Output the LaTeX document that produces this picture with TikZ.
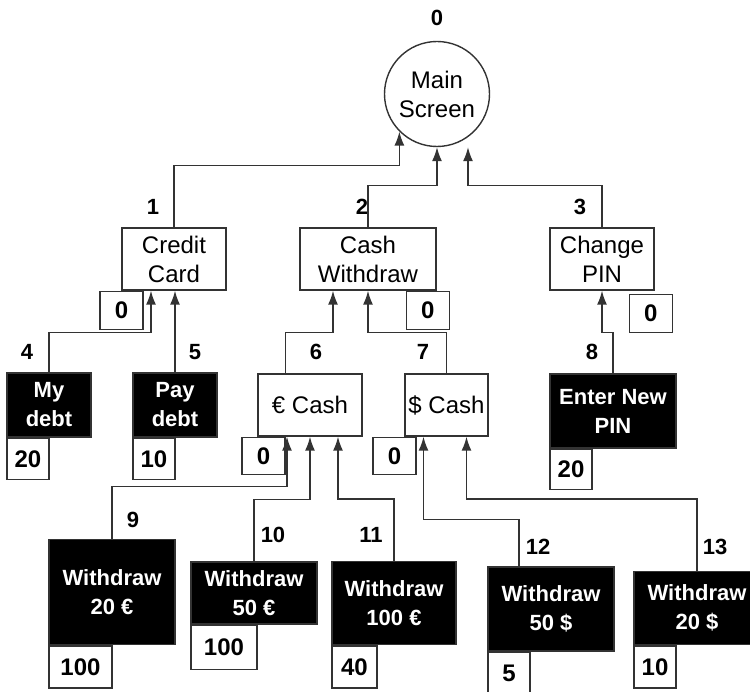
\documentclass[tikz,border=0pt]{standalone}
\usepackage{fontspec}
\setmainfont{Liberation Sans}
\usetikzlibrary{shapes.geometric, arrows.meta, positioning}

\begin{document}
\begin{tikzpicture}[
    x=1pt, y=-1pt,
    box/.style={draw=black!80, line width=1.4pt, rectangle, align=center, inner sep=2pt, font=\fontsize{24}{29}\selectfont},
    dark/.style={box, fill=black, text=white, font=\fontsize{22}{29}\selectfont\bfseries},
    cnt/.style={draw=black!80, line width=1.4pt, rectangle, minimum width=43pt, minimum height=38pt, inner sep=2pt, font=\fontsize{24}{26}\selectfont\bfseries},
    num/.style={font=\fontsize{22}{24}\selectfont\bfseries},
    arrow/.style={-{Latex[length=14pt, width=10pt]}, draw=black!80, line width=1.4pt}
]
\useasboundingbox (0,0) rectangle (750,692);

% Nodes
\node [box, circle, minimum size=105pt] (ms) at (437,94) {Main\\Screen};

\node [box, minimum width=104pt, minimum height=62pt] (cc) at (174,259) {Credit\\Card};
\node [box, minimum width=136pt, minimum height=62pt] (cw) at (368,259) {Cash\\Withdraw};
\node [box, minimum width=104pt, minimum height=62pt] (cp) at (602,259) {Change\\PIN};

\node [dark, minimum width=84pt, minimum height=64pt] (md) at (49,405) {My\\debt};
\node [dark, minimum width=84pt, minimum height=64pt] (pd) at (175,405) {Pay\\debt};
\node [box, minimum width=104pt, minimum height=62pt] (ec) at (310,405) {€ Cash};
\node [box, minimum width=83pt, minimum height=62pt] (dc) at (446.5,405) {\$ Cash};
\node [dark, minimum width=126pt, minimum height=74pt] (enp) at (613,411) {Enter New\\PIN};

\node [dark, minimum width=126pt, minimum height=105pt] (w1) at (112,592) {Withdraw\\20 €};
\node [dark, minimum width=126pt, minimum height=62pt] (w2) at (254,593) {Withdraw\\50 €};
\node [dark, minimum width=124pt, minimum height=83pt] (w3) at (394,603) {Withdraw\\100 €};
\node [dark, minimum width=126pt, minimum height=84pt] (w4) at (551,609) {Withdraw\\50 \$};
\node [dark, minimum width=126pt, minimum height=73pt] (w5) at (697,608) {Withdraw\\20 \$};

% Counters
\node [cnt, below right=0pt and -22pt of cc.south west] (c1) {0};
\node [cnt, below right=0pt and -31pt of cw.south east] (c2) {0};
\node [cnt, below right=3pt and -26pt of cp.south east] (c3) {0};
\node [cnt, minimum width=42pt, minimum height=41pt, below right=0pt and 0pt of md.south west] (c4) {20};
\node [cnt, minimum width=42pt, minimum height=41pt, below right=0pt and 0pt of pd.south west] (c5) {10};
\node [cnt, minimum height=37pt, below right=0pt and -16pt of ec.south west] (c6) {0};
\node [cnt, minimum height=37pt, below right=0pt and -32pt of dc.south west] (c7) {0};
\node [cnt, minimum width=42pt, minimum height=40pt, below right=0pt and 0pt of enp.south west] (c8) {20};
\node [cnt, minimum width=63pt, minimum height=42pt, below right=0pt and 0pt of w1.south west] (c9) {100};
\node [cnt, minimum width=66pt, minimum height=44pt, below right=0pt and 0pt of w2.south west] (c10) {100};
\node [cnt, minimum width=45pt, minimum height=42pt, below right=0pt and 0pt of w3.south west] (c11) {40};
\node [cnt, minimum width=42pt, minimum height=42pt, below right=0pt and 0pt of w4.south west] (c12) {5};
\node [cnt, minimum width=42pt, minimum height=42pt, below right=0pt and 0pt of w5.south west] (c13) {10};

% Numbers
\node [num] (n0) at (437,18) {0};
\node [num] (n1) at (153,207) {1};
\node [num] (n2) at (362,207) {2};
\node [num] (n3) at (580,207) {3};
\node [num] (n4) at (27,352) {4};
\node [num] (n5) at (195,352) {5};
\node [num] (n6) at (316,352) {6};
\node [num] (n7) at (423,352) {7};
\node [num] (n8) at (592,352) {8};
\node [num] (n9) at (133,520) {9};
\node [num] (n10) at (273,535) {10};
\node [num] (n11) at (371,535) {11};
\node [num] (n12) at (538,547) {12};
\node [num] (n13) at (715,547) {13};

% Arrows
\draw [arrow] (cc.north) -- ++(0,-62) -| (ms.225);
\draw [arrow] (cw.north) -- ++(0,-42) -| (ms.south);
\draw [arrow] (cp.north) -- ++(0,-42) -| ([xshift=31pt]ms.south);

\draw [arrow] (md.north) -- ++(0,-40) -| ([xshift=-23pt]cc.south);
\draw [arrow] (pd.north) -- (pd.north |- cc.south);
\draw [arrow] ([xshift=28pt]ec.north west) -- ++(0,-41) -| ([xshift=-35pt]cw.south);
\draw [arrow] (dc.north) -- ++(0,-41) -| (cw.south);
\draw [arrow] (enp.north) -- ++(0,-41) -| (cp.south);

\draw [arrow] (w1.north) -- ++(0,-52) -| ([xshift=-23pt]ec.south);
\draw [arrow] (w2.north) -- ++(0,-62) -| (ec.south);
\draw [arrow] (w3.north) -- ++(0,-62) -| ([xshift=28pt]ec.south);
\draw [arrow] ([xshift=-32pt]w4.north) -- ++(0,-47) -| ([xshift=-23pt]dc.south);
\draw [arrow] (w5.north) -- ++(0,-72) -| ([xshift=20pt]dc.south);

\end{tikzpicture}
\end{document}
